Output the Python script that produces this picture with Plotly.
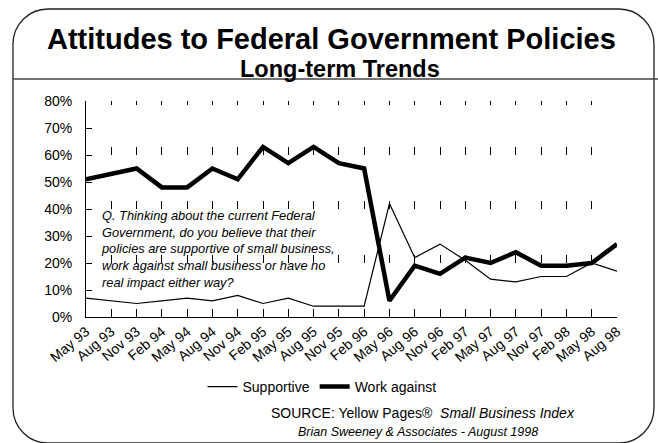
import plotly.graph_objects as go

# ---- data ----
periods = ["May 93", "Aug 93", "Nov 93", "Feb 94", "May 94", "Aug 94", "Nov 94",
           "Feb 95", "May 95", "Aug 95", "Nov 95", "Feb 96", "May 96", "Aug 96",
           "Nov 96", "Feb 97", "May 97", "Aug 97", "Nov 97", "Feb 98", "May 98", "Aug 98"]
supportive = [7, 6, 5, 6, 7, 6, 8, 5, 7, 4, 4, 4, 42, 22, 27, 21, 14, 13, 15, 15, 20, 17]
work_against = [51, 53, 55, 48, 48, 55, 51, 63, 57, 63, 57, 55, 6, 19, 16, 22, 20, 24, 19, 19, 20, 27]
y_ticks = [0, 10, 20, 30, 40, 50, 60, 70, 80]

W, H = 658, 443
ML, MR, MT, MB = 86, 41, 101, 126
PW, PH = W - ML - MR, H - MT - MB
FONT = "Liberation Sans, Arial, sans-serif"


def px(x):
    return (x - ML) / PW


def py(y):
    return (H - MB - y) / PH


fig = go.Figure()
fig.add_trace(go.Scatter(x=periods, y=supportive, mode="lines", name="Supportive",
                         line=dict(color="black", width=1.2)))
fig.add_trace(go.Scatter(x=periods, y=work_against, mode="lines", name="Work against",
                         line=dict(color="black", width=4.5)))

# rounded border
L, R, T, B, r = 13, 654, 9, 443, 35
k = 0.5523 * r


def P(x, y):
    return f"{px(x):.5f},{py(y):.5f}"


path = (f"M{P(L + r, T)} L{P(R - r, T)} "
        f"C{P(R - r + k, T)} {P(R, T + r - k)} {P(R, T + r)} "
        f"L{P(R, B - r)} "
        f"C{P(R, B - r + k)} {P(R - r + k, B)} {P(R - r, B)} "
        f"L{P(L + r, B)} "
        f"C{P(L + r - k, B)} {P(L, B - r + k)} {P(L, B - r)} "
        f"L{P(L, T + r)} "
        f"C{P(L, T + r - k)} {P(L + r - k, T)} {P(L + r, T)} Z")

shapes = [
    dict(type="path", xref="paper", yref="paper", path=path,
         line=dict(color="#222222", width=1.3), layer="below"),
    dict(type="line", xref="paper", yref="paper", x0=px(L), x1=px(W), y0=py(79), y1=py(79),
         line=dict(color="#444444", width=1.5)),
]

question = ("<i>Q. Thinking about the current Federal<br>"
            "Government, do you believe that their<br>"
            "policies are supportive of small business,<br>"
            "work against small business or have no<br>"
            "real impact either way?</i>")

annotations = [
    dict(text="<b>Attitudes to Federal Government Policies</b>", x=px(331.5), y=py(39),
         xref="paper", yref="paper", xanchor="center", yanchor="middle", showarrow=False,
         font=dict(size=29, color="black", family=FONT)),
    dict(text="<b>Long-term Trends</b>", x=px(340), y=py(69),
         xref="paper", yref="paper", xanchor="center", yanchor="middle", showarrow=False,
         font=dict(size=23.5, color="black", family=FONT)),
    dict(text=question, x=px(99), y=py(206), xref="paper", yref="paper",
         xanchor="left", yanchor="top", align="left", showarrow=False,
         font=dict(size=12.8, color="black", family=FONT)),
    dict(text="SOURCE: Yellow Pages®  <i>Small Business Index</i>", x=px(269), y=py(413),
         xref="paper", yref="paper", xanchor="left", yanchor="middle", showarrow=False,
         font=dict(size=14, color="black", family=FONT)),
    dict(text="<i>Brian Sweeney &amp; Associates - August 1998</i>", x=px(296), y=py(432),
         xref="paper", yref="paper", xanchor="left", yanchor="middle", showarrow=False,
         font=dict(size=12.5, color="black", family=FONT)),
]

fig.update_layout(
    width=W, height=H,
    margin=dict(l=ML, r=MR, t=MT, b=MB, autoexpand=False),
    paper_bgcolor="white", plot_bgcolor="white",
    font=dict(family=FONT, color="black", size=14),
    showlegend=True,
    legend=dict(orientation="h", x=px(322), y=py(387), xanchor="center", yanchor="middle",
                font=dict(size=14, family=FONT, color="black"), itemwidth=30,
                bgcolor="rgba(0,0,0,0)"),
    shapes=shapes,
    annotations=annotations,
)

fig.update_xaxes(
    type="category", range=[0, len(periods) - 1],
    showline=True, linecolor="black", linewidth=1,
    ticks="inside", ticklen=8, tickcolor="black", tickwidth=1,
    tickangle=-40, tickfont=dict(size=14, family=FONT, color="black"),
    showgrid=True, gridcolor="black", gridwidth=1,
    griddash="4px,42px,8px,46px,8px,46px,8px,46px,8px",
    zeroline=False, fixedrange=True,
)
fig.update_yaxes(
    range=[0, 80], tickvals=y_ticks, ticktext=[f"{v}%" for v in y_ticks],
    showline=True, linecolor="black", linewidth=1,
    ticks="inside", ticklen=6, tickcolor="black", tickwidth=1,
    tickfont=dict(size=14, family=FONT, color="black"), ticklabelstandoff=10,
    showgrid=False, zeroline=False, fixedrange=True,
)

fig.write_html("out.html", config={"displayModeBar": False},
               post_script="document.body.style.margin='0';document.body.style.overflow='hidden';")
